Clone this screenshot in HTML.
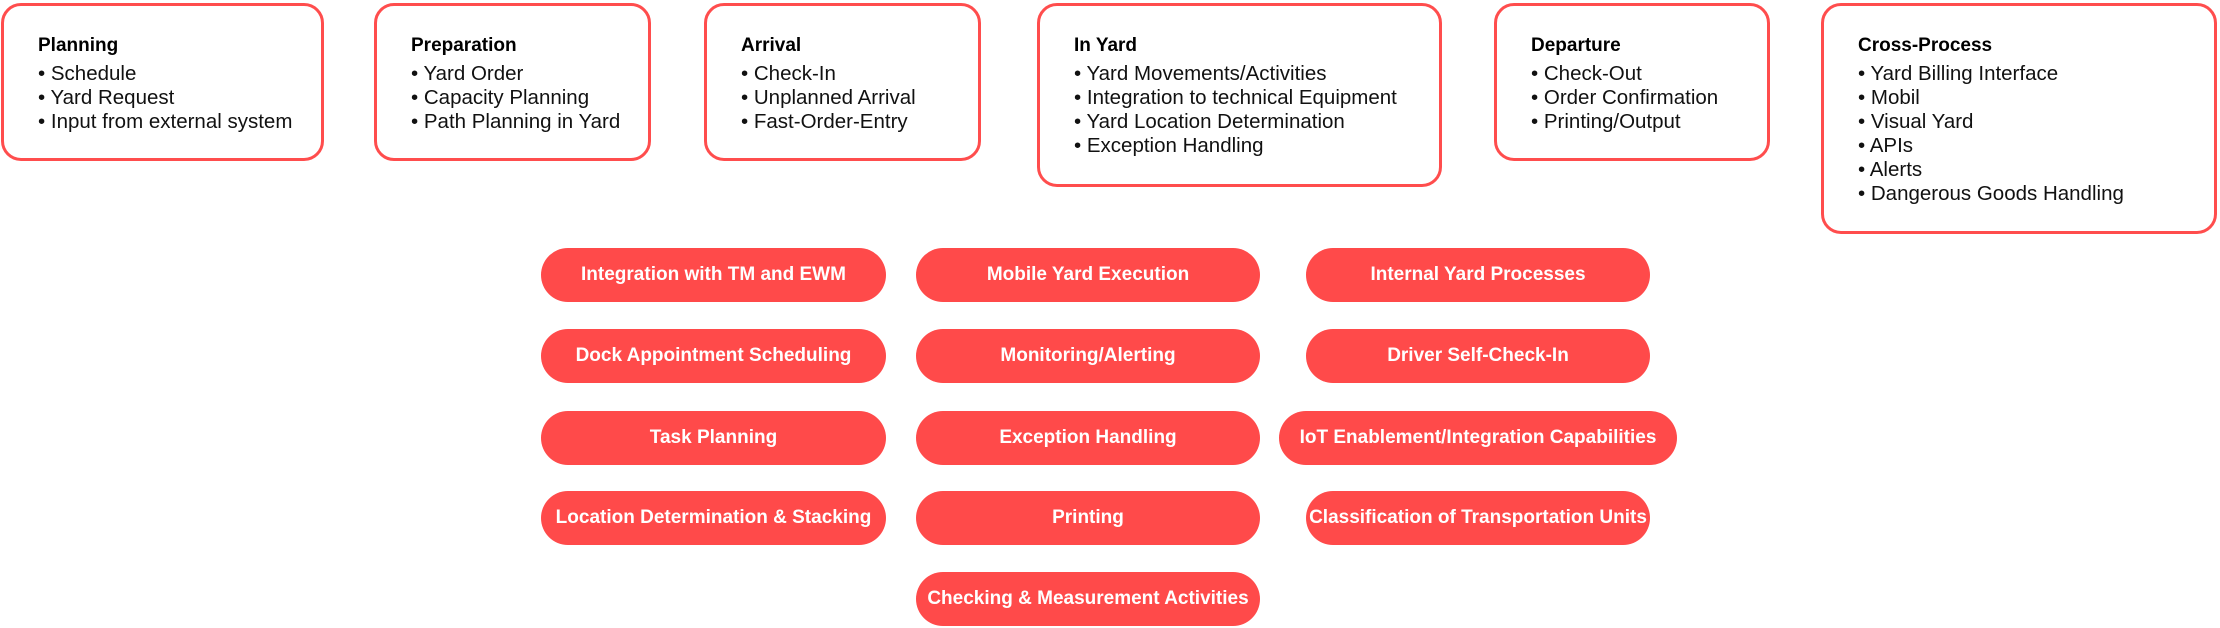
<!DOCTYPE html>
<html><head><meta charset="utf-8"><style>
body{margin:0;width:2220px;height:628px;background:#fff;position:relative;overflow:hidden;font-family:"Liberation Sans",sans-serif;}
.b{position:absolute;box-sizing:border-box;border:3px solid #ff4d4d;border-radius:20px;background:#fff;padding:28px 0 0 34px;}
.b h{display:block;font-weight:bold;font-size:19px;color:#000;line-height:24px;margin-bottom:4px;}
.b div{font-size:20.5px;line-height:24px;color:#111;white-space:nowrap;}
.p{position:absolute;height:54px;border-radius:27px;background:#ff4a4a;color:#fff;font-weight:bold;font-size:19px;display:flex;align-items:center;justify-content:center;white-space:nowrap;}
</style></head><body>
<div class="b" style="left:1px;top:3px;width:323px;height:158px"><h>Planning</h><div>• Schedule</div><div>• Yard Request</div><div>• Input from external system</div></div>
<div class="b" style="left:374px;top:3px;width:277px;height:158px"><h>Preparation</h><div>• Yard Order</div><div>• Capacity Planning</div><div>• Path Planning in Yard</div></div>
<div class="b" style="left:704px;top:3px;width:277px;height:158px"><h>Arrival</h><div>• Check-In</div><div>• Unplanned Arrival</div><div>• Fast-Order-Entry</div></div>
<div class="b" style="left:1037px;top:3px;width:405px;height:184px"><h>In Yard</h><div>• Yard Movements/Activities</div><div>• Integration to technical Equipment</div><div>• Yard Location Determination</div><div>• Exception Handling</div></div>
<div class="b" style="left:1494px;top:3px;width:276px;height:158px"><h>Departure</h><div>• Check-Out</div><div>• Order Confirmation</div><div>• Printing/Output</div></div>
<div class="b" style="left:1821px;top:3px;width:396px;height:231px"><h>Cross-Process</h><div>• Yard Billing Interface</div><div>• Mobil</div><div>• Visual Yard</div><div>• APIs</div><div>• Alerts</div><div>• Dangerous Goods Handling</div></div>

<div class="p" style="left:541px;top:248px;width:345px">Integration with TM and EWM</div>
<div class="p" style="left:916px;top:248px;width:344px">Mobile Yard Execution</div>
<div class="p" style="left:1306px;top:248px;width:344px">Internal Yard Processes</div>
<div class="p" style="left:541px;top:329px;width:345px">Dock Appointment Scheduling</div>
<div class="p" style="left:916px;top:329px;width:344px">Monitoring/Alerting</div>
<div class="p" style="left:1306px;top:329px;width:344px">Driver Self-Check-In</div>
<div class="p" style="left:541px;top:411px;width:345px">Task Planning</div>
<div class="p" style="left:916px;top:411px;width:344px">Exception Handling</div>
<div class="p" style="left:1279px;top:411px;width:398px">IoT Enablement/Integration Capabilities</div>
<div class="p" style="left:541px;top:491px;width:345px">Location Determination &amp; Stacking</div>
<div class="p" style="left:916px;top:491px;width:344px">Printing</div>
<div class="p" style="left:1306px;top:491px;width:344px">Classification of Transportation Units</div>
<div class="p" style="left:916px;top:572px;width:344px">Checking &amp; Measurement Activities</div>
</body></html>
